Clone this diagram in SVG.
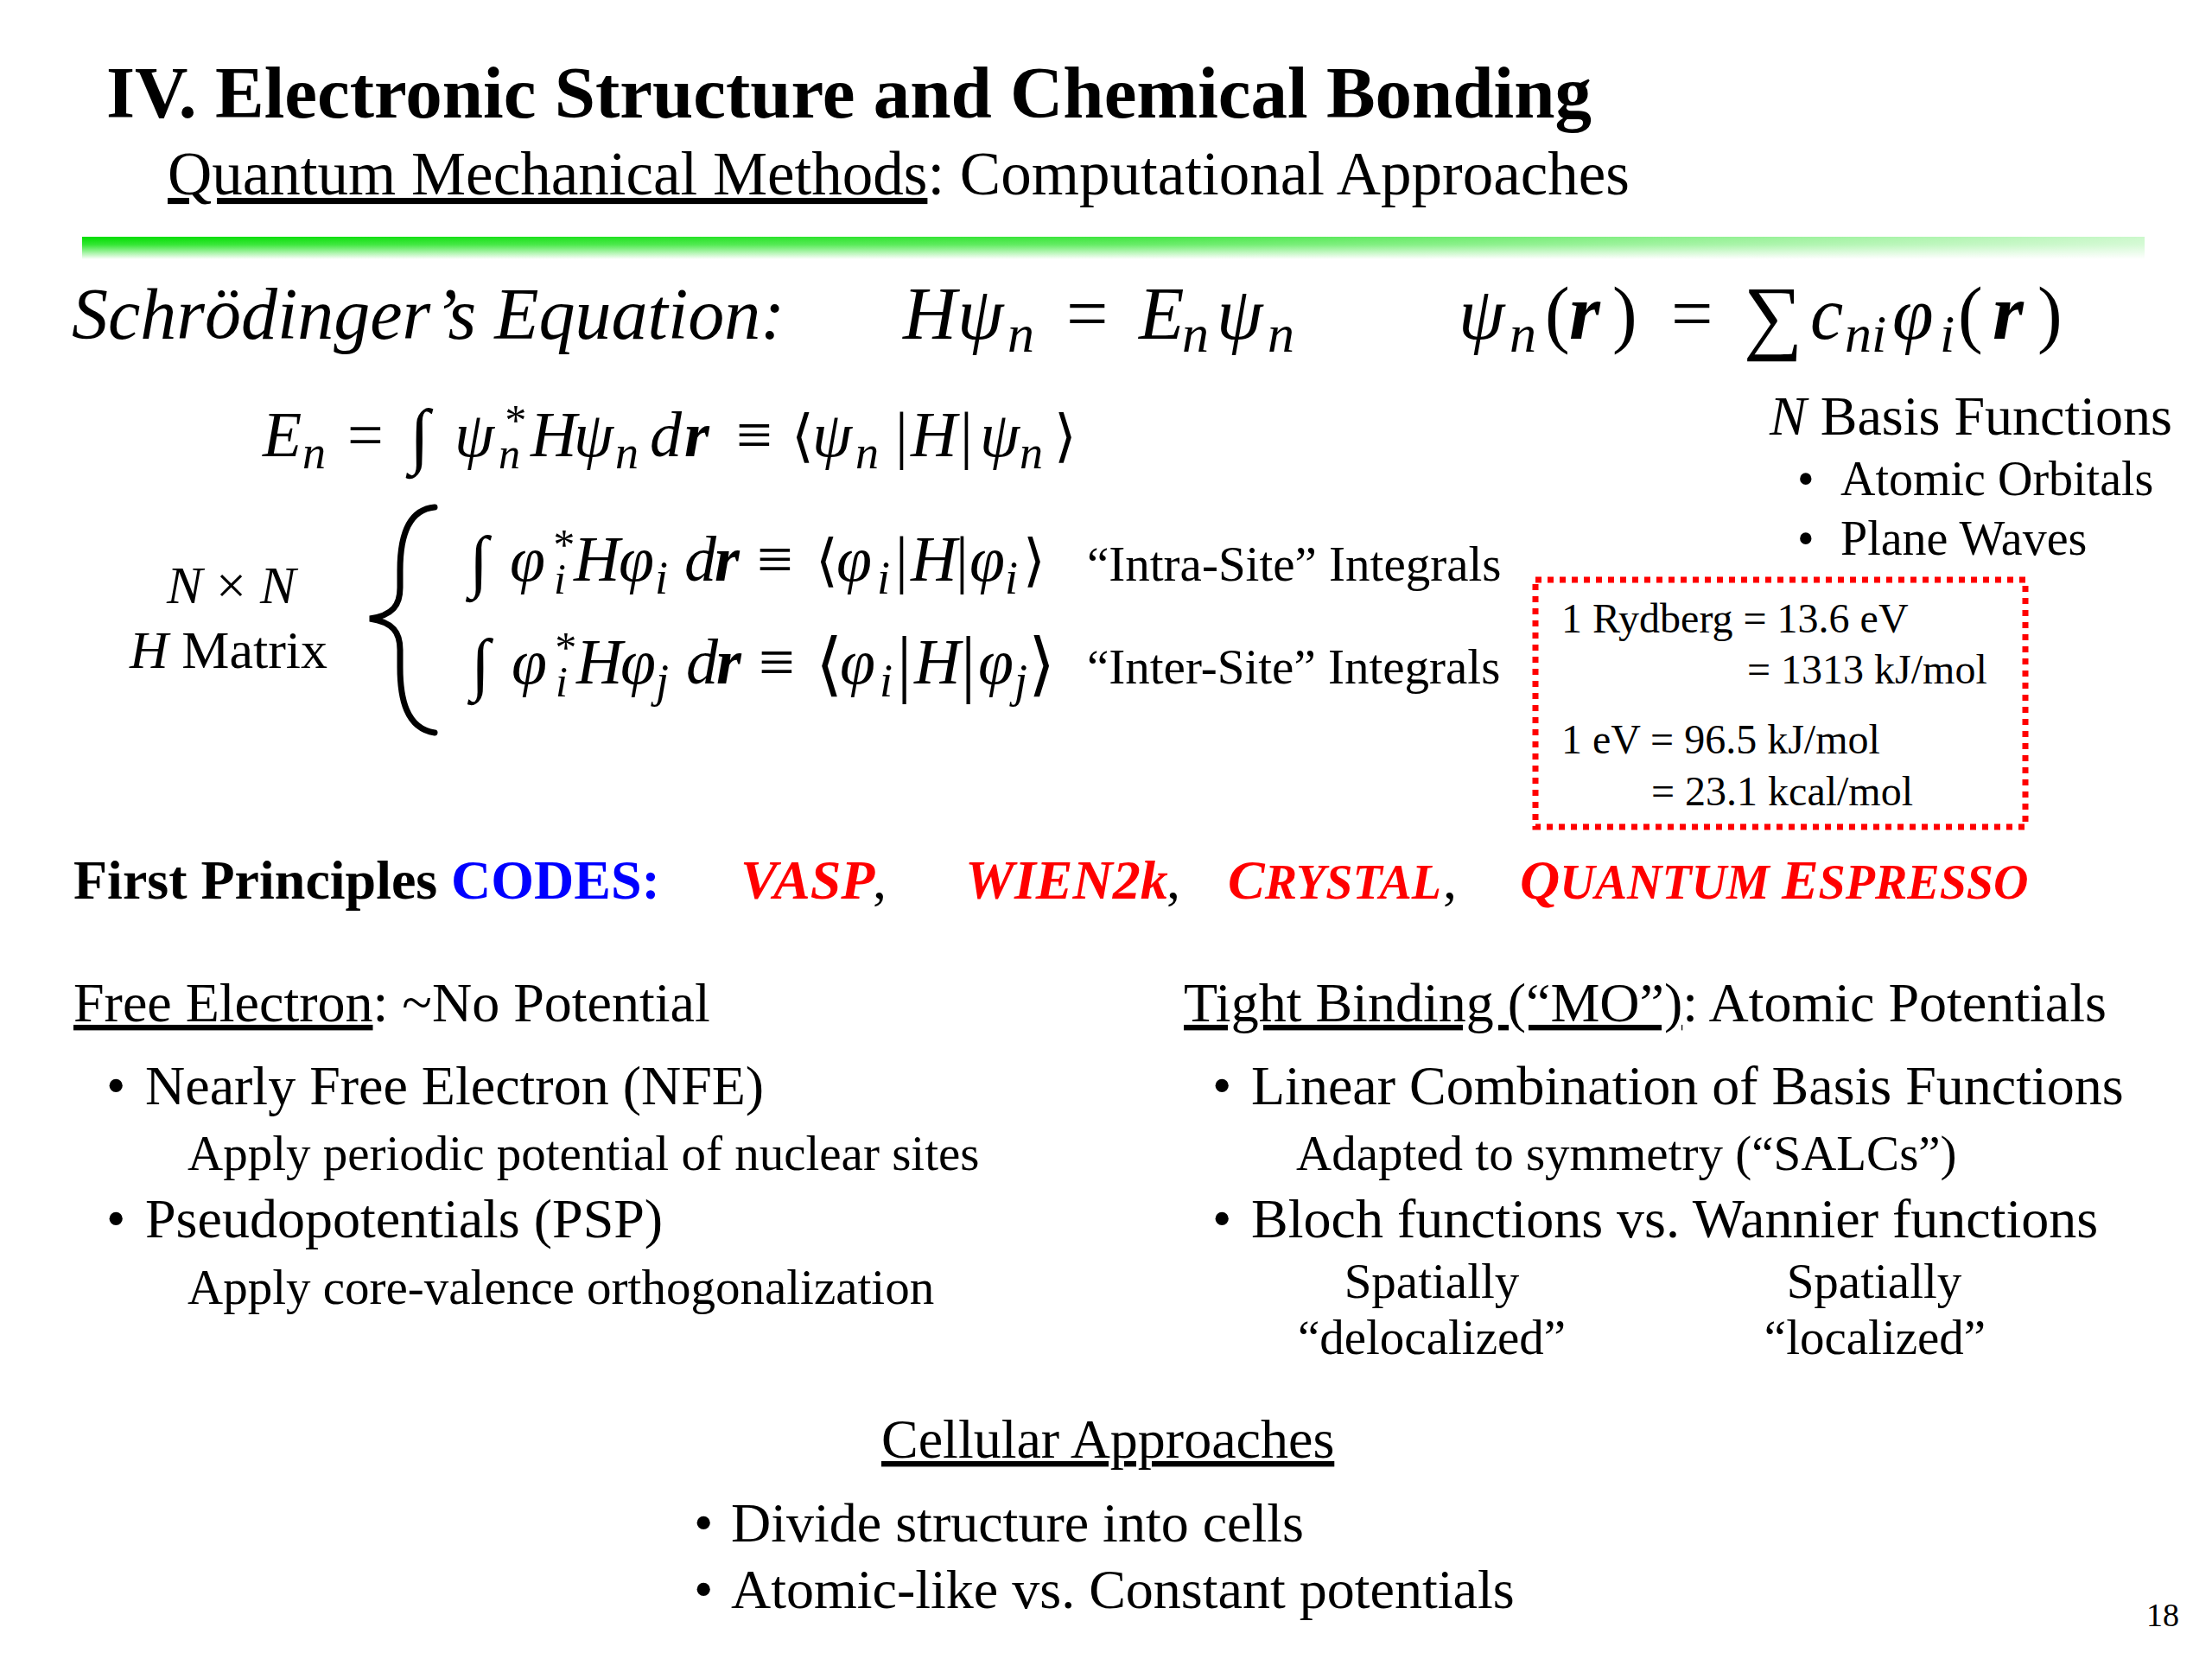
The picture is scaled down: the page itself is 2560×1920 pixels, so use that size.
<svg xmlns="http://www.w3.org/2000/svg" width="2560" height="1920" viewBox="0 0 2560 1920">
<defs>
<linearGradient id="gv" x1="0" y1="0" x2="0" y2="1">
<stop offset="0" stop-color="#00dd00"/>
<stop offset="0.35" stop-color="#33e633"/>
<stop offset="1" stop-color="#ffffff"/>
</linearGradient>
<linearGradient id="gh" x1="0" y1="0" x2="1" y2="0">
<stop offset="0" stop-color="#ffffff" stop-opacity="0"/>
<stop offset="0.5" stop-color="#ffffff" stop-opacity="0.25"/>
<stop offset="1" stop-color="#ffffff" stop-opacity="0.8"/>
</linearGradient>
<style>
text{font-family:"Liberation Serif","Times New Roman","DejaVu Serif",serif;fill:#000}
.mi{font-style:italic}
.mb{font-style:italic;font-weight:bold}
.up{font-style:normal}
.br{font-family:"DejaVu Serif","Liberation Serif",serif;font-style:normal}
.f86{font-size:86px}
.f62{font-size:62px}
.f74{font-size:74px}
.f54{font-size:54px}
.f50{font-size:50px}
.f64{font-size:64px}
.f57{font-size:57px}
.f56{font-size:56px}
.f48{font-size:48px}
.red{fill:#ff0000;font-style:italic;font-weight:bold}
.blue{fill:#0000ff;font-weight:bold}
</style>
</defs>
<rect width="2560" height="1920" fill="#ffffff"/>

<g id="title">
<text x="123" y="136" font-size="85" font-weight="bold">IV. Electronic Structure and Chemical Bonding</text>
<text x="194" y="225" font-size="71"><tspan text-decoration="underline">Quantum Mechanical Methods</tspan>: Computational Approaches</text>
</g>

<g id="green-bar">
<rect x="95" y="274" width="2387" height="26" fill="url(#gv)"/>
<rect x="95" y="274" width="2387" height="26" fill="url(#gh)"/>
</g>

<g id="schrodinger">
<text x="83" y="392" font-size="84" font-style="italic">Schrödinger’s Equation:</text>
<text class="mi f86"><tspan x="1045" y="392">H</tspan><tspan x="1108" y="392">ψ</tspan><tspan class="f62" x="1166" y="407">n</tspan><tspan class="up" x="1234" y="392">=</tspan><tspan x="1318" y="392">E</tspan><tspan class="f62" x="1368" y="407">n</tspan><tspan x="1408" y="392">ψ</tspan><tspan class="f62" x="1467" y="407">n</tspan></text>
<text class="mi f86"><tspan x="1688" y="392">ψ</tspan><tspan class="f62" x="1747" y="407">n</tspan><tspan class="up" x="1788" y="392">(</tspan><tspan class="mb" font-size="92" x="1816" y="392">r</tspan><tspan class="up" x="1866" y="392">)</tspan><tspan class="up" x="1934" y="392">=</tspan><tspan class="up" font-size="96" x="2018" y="398">∑</tspan><tspan x="2095" y="392">c</tspan><tspan class="f62" x="2135" y="407">ni</tspan><tspan x="2190" y="392">φ</tspan><tspan class="f62" x="2245" y="407">i</tspan><tspan class="up" x="2266" y="392">(</tspan><tspan class="mb" font-size="92" x="2306" y="392">r</tspan><tspan class="up" x="2358" y="392">)</tspan></text>
</g>

<g id="energy-eq">
<text class="mi f74"><tspan x="304" y="528">E</tspan><tspan class="f54" x="350" y="542">n</tspan><tspan class="up" x="402" y="528">=</tspan><tspan class="up" font-size="84" x="474" y="532">∫</tspan><tspan x="526" y="528">ψ</tspan><tspan class="f50" x="577 582" y="542 503">n*</tspan><tspan x="614" y="528">H</tspan><tspan x="664" y="528">ψ</tspan><tspan class="f54" x="712" y="542">n</tspan><tspan x="752" y="528">d</tspan><tspan class="mb" x="792" y="528">r</tspan><tspan class="up" x="852" y="528">≡</tspan><tspan class="br" font-size="66" x="916" y="527">⟨</tspan><tspan x="940" y="528">ψ</tspan><tspan class="f54" x="990" y="542">n</tspan><tspan class="up" x="1036" y="528">|</tspan><tspan x="1054" y="528">H</tspan><tspan class="up" x="1111" y="528">|</tspan><tspan x="1134" y="528">ψ</tspan><tspan class="f54" x="1180" y="542">n</tspan><tspan class="br" font-size="66" x="1220" y="527">⟩</tspan></text>
</g>

<g id="basis">
<text class="f64" x="2048" y="503"><tspan font-style="italic">N</tspan> Basis Functions</text>
<text class="f56" x="2080" y="573">•</text>
<text class="f56" x="2130" y="573">Atomic Orbitals</text>
<text class="f56" x="2080" y="642">•</text>
<text class="f56" x="2130" y="642">Plane Waves</text>
</g>

<g id="h-matrix">
<text font-size="62"><tspan font-style="italic" x="193" y="698">N</tspan><tspan x="250" y="698">×</tspan><tspan font-style="italic" x="301" y="698">N</tspan></text>
<text font-size="62" x="150" y="773"><tspan font-style="italic">H</tspan> Matrix</text>
<path d="M503 587 C470 590 463 625 463 660 L463 680 C463 700 455 712 428 716 C455 720 463 732 463 752 L463 772 C463 808 470 843 503 848" fill="none" stroke="#000" stroke-width="7" stroke-linecap="round"/>
</g>

<g id="intra">
<text class="mi f74"><tspan class="up" font-size="80" x="543" y="676">∫</tspan><tspan x="590" y="672">φ</tspan><tspan class="f50" x="641 638" y="687 647">i*</tspan><tspan x="664" y="672">H</tspan><tspan x="716" y="672">φ</tspan><tspan class="f54" x="758" y="687">i</tspan><tspan x="792" y="672">d</tspan><tspan class="mb" x="827" y="672">r</tspan><tspan class="up" x="876" y="672">≡</tspan><tspan class="br" font-size="66" x="944" y="671">⟨</tspan><tspan x="968" y="672">φ</tspan><tspan class="f54" x="1015" y="687">i</tspan><tspan class="up" x="1036" y="672">|</tspan><tspan x="1054" y="672">H</tspan><tspan class="up" x="1106" y="672">|</tspan><tspan x="1122" y="672">φ</tspan><tspan class="f54" x="1163" y="687">i</tspan><tspan class="br" font-size="66" x="1184" y="671">⟩</tspan></text>
<text class="f57" x="1258" y="672">“Intra-Site” Integrals</text>
</g>

<g id="inter">
<text class="mi f74"><tspan class="up" font-size="80" x="545" y="795">∫</tspan><tspan x="592" y="791">φ</tspan><tspan class="f50" x="643 640" y="806 766">i*</tspan><tspan x="667" y="791">H</tspan><tspan x="718" y="791">φ</tspan><tspan class="f54" x="759" y="806">j</tspan><tspan x="794" y="791">d</tspan><tspan class="mb" x="829" y="791">r</tspan><tspan class="up" x="878" y="791">≡</tspan><tspan class="br" font-size="80" x="944" y="796">⟨</tspan><tspan x="972" y="791">φ</tspan><tspan class="f54" x="1018" y="806">i</tspan><tspan class="up" font-size="86" x="1038" y="796">|</tspan><tspan x="1058" y="791">H</tspan><tspan class="up" font-size="86" x="1112" y="796">|</tspan><tspan x="1132" y="791">φ</tspan><tspan class="f54" x="1174" y="806">j</tspan><tspan class="br" font-size="80" x="1190" y="796">⟩</tspan></text>
<text class="f57" x="1258" y="791">“Inter-Site” Integrals</text>
</g>

<g id="units-box">
<rect x="1777" y="671" width="567" height="286" fill="none" stroke="#ff0000" stroke-width="7" stroke-dasharray="7 7"/>
<text class="f48" x="1807" y="732">1 Rydberg = 13.6 eV</text>
<text class="f48" x="2022" y="791">= 1313 kJ/mol</text>
<text class="f48" x="1807" y="872">1 eV = 96.5 kJ/mol</text>
<text class="f48" x="1911" y="932">= 23.1 kcal/mol</text>
</g>

<g id="codes">
<text class="f64" x="85" y="1040" font-weight="bold">First Principles</text>
<text class="f64 blue" x="522" y="1040">CODES:</text>
<text class="f64 red" x="857" y="1040">VASP</text>
<text class="f64" x="1010" y="1040">,</text>
<text class="f64 red" x="1117" y="1040">WIEN2k</text>
<text class="f64" x="1350" y="1040">,</text>
<text class="f64 red" x="1421" y="1040">C<tspan font-size="56">RYSTAL</tspan></text>
<text class="f64" x="1670" y="1040">,</text>
<text class="f64 red" x="1759" y="1040">Q<tspan font-size="56">UANTUM </tspan>E<tspan font-size="56">SPRESSO</tspan></text>
</g>

<g id="free-electron">
<text class="f64" x="85" y="1182"><tspan text-decoration="underline">Free Electron</tspan>: ~No Potential</text>
<text class="f64" x="123" y="1278">•</text>
<text class="f64" x="168" y="1278">Nearly Free Electron (NFE)</text>
<text class="f57" x="217" y="1354">Apply periodic potential of nuclear sites</text>
<text class="f64" x="123" y="1432">•</text>
<text class="f64" x="168" y="1432">Pseudopotentials (PSP)</text>
<text class="f57" x="217" y="1509">Apply core-valence orthogonalization</text>
</g>

<g id="tight-binding">
<text class="f64" x="1370" y="1182"><tspan text-decoration="underline">Tight Binding (“MO”)</tspan>: Atomic Potentials</text>
<text class="f64" x="1403" y="1278">•</text>
<text class="f64" x="1448" y="1278">Linear Combination of Basis Functions</text>
<text class="f57" x="1500" y="1354">Adapted to symmetry (“SALCs”)</text>
<text class="f64" x="1403" y="1432">•</text>
<text class="f64" x="1448" y="1432">Bloch functions vs. Wannier functions</text>
<text class="f57" x="1657" y="1502" text-anchor="middle">Spatially</text>
<text class="f57" x="1657" y="1567" text-anchor="middle">“delocalized”</text>
<text class="f57" x="2169" y="1502" text-anchor="middle">Spatially</text>
<text class="f57" x="2170" y="1567" text-anchor="middle">“localized”</text>
</g>

<g id="cellular">
<text class="f64" x="1020" y="1687"><tspan text-decoration="underline">Cellular Approaches</tspan></text>
<text class="f64" x="803" y="1784">•</text>
<text class="f64" x="846" y="1784">Divide structure into cells</text>
<text class="f64" x="803" y="1861">•</text>
<text class="f64" x="846" y="1861">Atomic-like vs. Constant potentials</text>
</g>

<g id="page-number">
<text x="2484" y="1882" font-size="38">18</text>
</g>
</svg>
